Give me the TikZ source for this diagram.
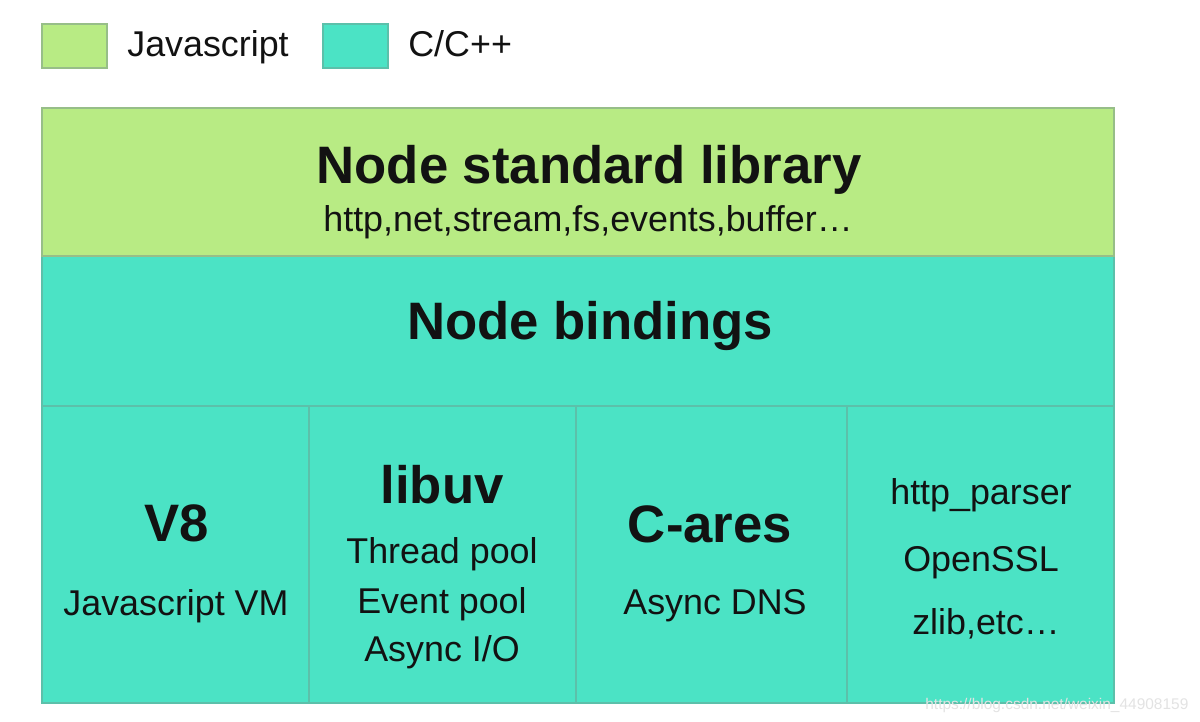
\documentclass[tikz,border=0pt]{standalone}
\usepackage{fontspec}
\setmainfont{Liberation Sans}
\definecolor{jsgreen}{HTML}{B8EB84}
\definecolor{cteal}{HTML}{4BE3C5}
\definecolor{gborder}{HTML}{97BE88}
\definecolor{tborder}{HTML}{5CC0AA}
\definecolor{txt}{HTML}{121212}
\begin{document}
\begin{tikzpicture}[x=0.02cm,y=-0.02cm,
  lbl/.style={anchor=base,inner sep=0pt,text=txt,font=\fontsize{20.4}{24}\selectfont},
  ttl/.style={anchor=base,inner sep=0pt,text=txt,font=\fontsize{30}{36}\selectfont\bfseries},
  tline/.style={draw=tborder,line width=1pt},
  gline/.style={draw=gborder,line width=1pt},
  wmark/.style={anchor=base west,inner sep=0pt,text=gray!22,font=\fontsize{8.8}{10}\selectfont}
]
\useasboundingbox[fill=white] (0,0) rectangle (1200,722);
% legend
\filldraw[fill=jsgreen,gline] (42,24) rectangle (107,68);
\node[lbl,anchor=base west] (legjs) at (127,57) {Javascript};
\filldraw[fill=cteal,tline] (323,24) rectangle (388,68);
\node[lbl,anchor=base west] (legc) at (408,57) {C/C++};
% C/C++ area
\fill[cteal] (42,256) rectangle (1114,703);
\draw[tline] (42,256) rectangle (1114,703);
\draw[tline] (42,406) -- (1114,406);
\draw[tline] (309,406) -- (309,703);
\draw[tline] (576,406) -- (576,703);
\draw[tline] (847,406) -- (847,703);
% JS area
\filldraw[fill=jsgreen,gline] (42,108) rectangle (1114,256);
% texts
\node[ttl] (stdlib) at (589,184) {Node standard library};
\node[lbl] (stdmods) at (588,232) {http,net,stream,fs,events,buffer…};
\node[ttl] (bind) at (590,340) {Node bindings};
\node[ttl] (v8) at (177,541) {V8};
\node[lbl] (v8d) at (176,615) {Javascript VM};
\node[ttl] (uv) at (442,503) {libuv};
\node[lbl] (uv1) at (442,563) {Thread pool};
\node[lbl] (uv2) at (442,613) {Event pool};
\node[lbl] (uv3) at (442,661) {Async I/O};
\node[ttl] (ca) at (710,542) {C-ares};
\node[lbl] (cad) at (715,614) {Async DNS};
\node[lbl] (hp) at (981,505) {http\_parser};
\node[lbl] (ssl) at (981,571) {OpenSSL};
\node[lbl] (zl) at (986,634) {zlib,etc…};
\node[wmark] (wm) at (925,709) {https://blog.csdn.net/weixin\_44908159};
\end{tikzpicture}
\end{document}
